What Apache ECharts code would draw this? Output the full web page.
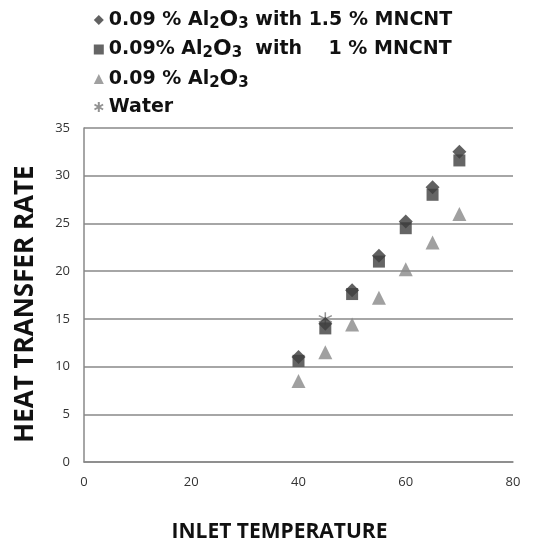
<!DOCTYPE html>
<html>
<head>
<meta charset="utf-8">
<script src="https://cdn.jsdelivr.net/npm/echarts@6/dist/echarts.min.js"></script>
<style>
  html, body { margin: 0; padding: 0; background: #fff; }
  #chart { width: 536px; height: 545px; }
</style>
</head>
<body>
<div id="chart"></div>
<script>
// inlet temperature values
const temps = [40, 45, 50, 55, 60, 65, 70];
const mncnt15 = [11, 14.5, 18, 21.6, 25.2, 28.8, 32.5];
const mncnt10 = [10.6, 14, 17.6, 21, 24.5, 28, 31.6];
const al2o3 = [8.5, 11.5, 14.4, 17.2, 20.2, 23, 26];
const waterTemps = [45];
const water = [15];
const xTicks = [0, 20, 40, 60, 80];
const yTicks = [0, 5, 10, 15, 20, 25, 30, 35];

const names = ['s1', 's2', 's3', 's4'];
const labels = {
  s1: '{a|0.09 % Al}{s|2}{b|O}{s|3}{a| with 1.5 % MNCNT}',
  s2: '{a|0.09% Al}{s|2}{b|O}{s|3}{a|  with    1 % MNCNT}',
  s3: '{a|0.09 % Al}{s|2}{b|O}{s|3}',
  s4: '{a|Water}'
};

const pair = (xs, ys) => xs.map((x, i) => [x, ys[i]]);
const starPath = 'path://M5,0 L5,10 M0.7,2.5 L9.3,7.5 M0.7,7.5 L9.3,2.5';
const legendFont = '"DejaVu Sans", sans-serif';

const chart = echarts.init(document.getElementById('chart'));
chart.setOption({
  animation: false,
  textStyle: { fontFamily: '"Open Sans", sans-serif' },
  legend: {
    orient: 'vertical',
    left: 87,
    top: 4,
    itemGap: 7,
    itemWidth: 10,
    itemHeight: 10,
    itemTextGap: 15,
    data: names,
    formatter: n => labels[n],
    textStyle: {
      color: '#111',
      rich: {
        a: { fontSize: 19, fontWeight: 'bold', color: '#111', fontFamily: legendFont },
        b: { fontSize: 22, fontWeight: 'bold', color: '#111', fontFamily: legendFont },
        s: { fontSize: 15, fontWeight: 'bold', color: '#111', verticalAlign: 'bottom', padding: [8, 0, 0, 0], fontFamily: legendFont }
      }
    }
  },
  grid: { left: 84, right: 23, top: 128, bottom: 83, containLabel: false, outerBoundsMode: 'none' },
  xAxis: {
    type: 'value',
    min: 0, max: 80, interval: 20,
    name: 'INLET TEMPERATURE',
    nameLocation: 'middle',
    nameGap: 60,
    nameTextStyle: { fontSize: 21, fontWeight: 'bold', color: '#111', padding: [0, 38, 0, 0] },
    axisLine: { show: true, lineStyle: { color: '#888', width: 1.5 } },
    axisTick: { show: false },
    splitLine: { show: false },
    axisLabel: { color: '#333', fontSize: 13, margin: 14, formatter: v => xTicks.includes(v) ? String(v) : '' }
  },
  yAxis: {
    type: 'value',
    min: 0, max: 35, interval: 5,
    name: 'HEAT TRANSFER RATE',
    nameLocation: 'middle',
    nameGap: 45,
    nameTextStyle: { fontSize: 26, fontWeight: 'bold', color: '#111', padding: [0, 18, 0, 0] },
    axisLine: { show: true, lineStyle: { color: '#888', width: 1.5 } },
    axisTick: { show: false },
    splitLine: { show: true, lineStyle: { color: '#888', width: 1.5 } },
    axisLabel: { color: '#333', fontSize: 13, margin: 14, formatter: v => yTicks.includes(v) ? String(v) : '' }
  },
  series: [
    { name: 's4', type: 'scatter', data: pair(waterTemps, water), symbol: starPath, symbolSize: 13,
      itemStyle: { color: 'none', borderColor: '#777', borderWidth: 1.5 } },
    { name: 's3', type: 'scatter', data: pair(temps, al2o3), symbol: 'triangle', symbolSize: 14,
      itemStyle: { color: '#888' } },
    { name: 's1', type: 'scatter', data: pair(temps, mncnt15), symbol: 'diamond', symbolSize: 14,
      itemStyle: { color: '#3a3a3a' } },
    { name: 's2', type: 'scatter', data: pair(temps, mncnt10), symbol: 'rect', symbolSize: 12,
      itemStyle: { color: '#3f3f3f' } }
  ]
});
</script>
</body>
</html>
